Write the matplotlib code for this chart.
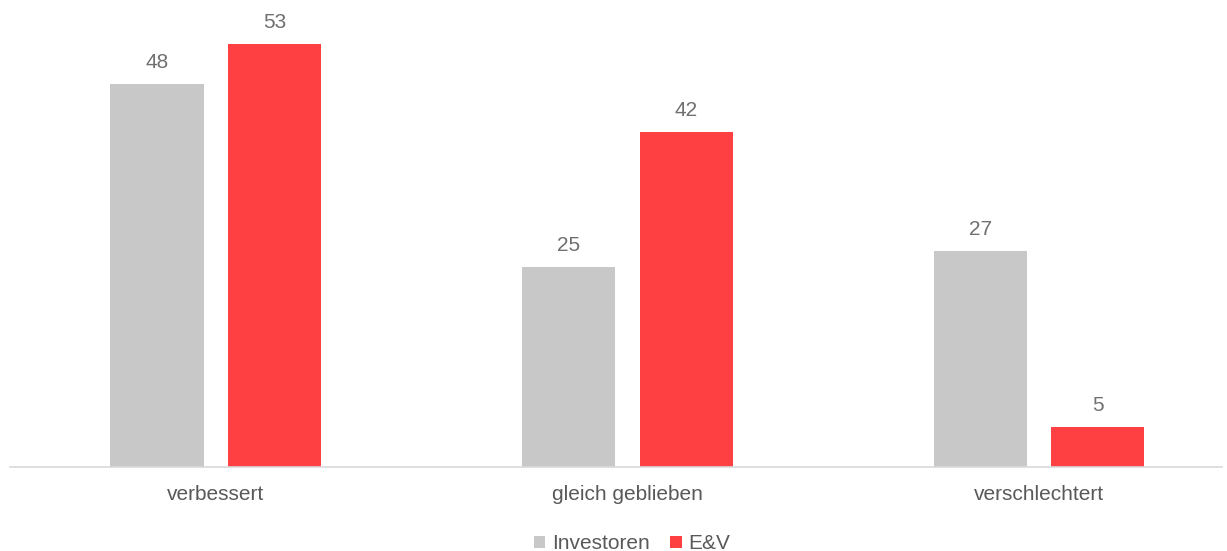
import numpy as np
import matplotlib
matplotlib.use("Agg")
import matplotlib.pyplot as plt

plt.rcParams['font.family'] = ['Liberation Sans', 'DejaVu Sans']

categories = ['verbessert', 'gleich geblieben', 'verschlechtert']
investoren = [48, 25, 27]
ev = [53, 42, 5]

grey = '#c7c8c7'
red = '#ff4043'
text_col = '#595959'

fig = plt.figure(figsize=(12.27, 5.51), dpi=100)
ax = fig.add_axes([10 / 1227, 84 / 551, 1212 / 1227, 463 / 551])

x = np.arange(len(categories))
w = 0.226
off = 0.1428
b1 = ax.bar(x - off, investoren, w, color=grey, label='Investoren')
b2 = ax.bar(x + off, ev, w, color=red, label='E&V')

# value labels above each bar
for bars in (b1, b2):
    for r in bars:
        ax.annotate(f'{r.get_height():g}', (r.get_x() + r.get_width() / 2, r.get_height()),
                    xytext=(0, 11.5), textcoords='offset points', ha='center', va='baseline',
                    fontsize=15, color='#707070')

ax.set_xlim(-0.5, 2.445)
ax.set_ylim(0, 58)
ax.set_yticks([])
ax.set_xticks(x)
ax.set_xticklabels(categories, fontsize=15, color=text_col)
ax.tick_params(axis='x', length=0, pad=13)
for s in ['top', 'right', 'left']:
    ax.spines[s].set_visible(False)
ax.spines['bottom'].set_color('#d9d9d9')
ax.spines['bottom'].set_linewidth(1.2)

leg = fig.legend(loc='lower center', bbox_to_anchor=(0.515, -0.038), ncol=2, frameon=False,
                 fontsize=15, handlelength=0.55, handleheight=0.55, handletextpad=0.3,
                 columnspacing=1.0, labelcolor=text_col)

fig.savefig('out.png', dpi=100)
